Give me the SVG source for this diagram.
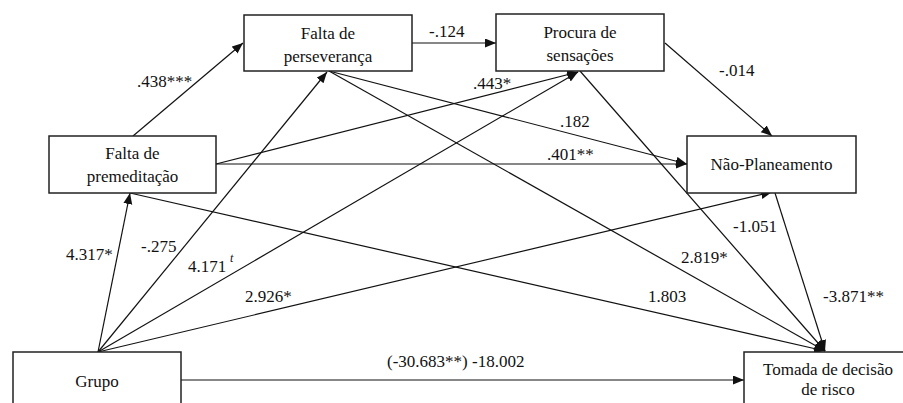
<svg xmlns="http://www.w3.org/2000/svg" width="903" height="403" viewBox="0 0 903 403">
<defs>
<marker id="ah" markerUnits="userSpaceOnUse" markerWidth="12" markerHeight="10" refX="11" refY="4.5" orient="auto">
<path d="M0,0 L11,4.5 L0,9 Z" fill="#111"/>
</marker>
</defs>
<style>
.box{fill:#fff;stroke:#222;stroke-width:1.5}
.t{font-family:'Liberation Serif',Tinos,'Times New Roman','DejaVu Serif',serif;font-size:17px;fill:#111}
.c{text-anchor:middle}
.ln{stroke:#111;stroke-width:1.2;fill:none;marker-end:url(#ah)}
</style>
<rect width="903" height="403" fill="#fff"/>
<g id="connectors">
<line class="ln" x1="133" y1="136" x2="243" y2="43"/>
<line class="ln" x1="412" y1="43" x2="496" y2="43"/>
<line class="ln" x1="665" y1="43" x2="772" y2="136"/>
<line class="ln" x1="216" y1="164" x2="578" y2="72"/>
<line class="ln" x1="216" y1="164" x2="687" y2="164"/>
<line class="ln" x1="329" y1="71" x2="687" y2="164"/>
<line class="ln" x1="329" y1="71" x2="825" y2="351"/>
<line class="ln" x1="580" y1="71" x2="825" y2="351"/>
<line class="ln" x1="775" y1="193" x2="825" y2="351"/>
<line class="ln" x1="130" y1="193" x2="825" y2="351"/>
<line class="ln" x1="98" y1="352" x2="130" y2="193"/>
<line class="ln" x1="98" y1="352" x2="327" y2="72"/>
<line class="ln" x1="98" y1="352" x2="578" y2="72"/>
<line class="ln" x1="98" y1="352" x2="772" y2="192"/>
<line class="ln" x1="181" y1="380" x2="744" y2="380"/>
</g>
<g id="labels" font-family="Liberation Serif, serif">
<text class="t" x="137" y="87">.438***</text>
<text class="t" x="429" y="37">-.124</text>
<text class="t" x="719" y="76">-.014</text>
<text class="t" x="473" y="89">.443*</text>
<text class="t" x="560" y="127">.182</text>
<text class="t" x="547" y="160">.401**</text>
<text class="t" x="66" y="260">4.317*</text>
<text class="t" x="141" y="252">-.275</text>
<text class="t" x="188" y="272">4.171</text>
<text class="t" x="230" y="262" style="font-size:12px;font-style:italic">t</text>
<text class="t" x="245" y="302">2.926*</text>
<text class="t" x="387" y="367">(-30.683**) -18.002</text>
<text class="t" x="648" y="302">1.803</text>
<text class="t" x="681" y="263">2.819*</text>
<text class="t" x="733" y="232">-1.051</text>
<text class="t" x="823" y="302">-3.871**</text>
</g>
<g id="perseveranca">
<rect class="box" x="244" y="15" width="168" height="56"/>
<text class="t c" x="328" y="39">Falta de</text>
<text class="t c" x="328" y="62">perseverança</text>
</g>
<g id="procura">
<rect class="box" x="496" y="14" width="168" height="57"/>
<text class="t c" x="580" y="38">Procura de</text>
<text class="t c" x="580" y="61">sensações</text>
</g>
<g id="premeditacao">
<rect class="box" x="49" y="136" width="167" height="57"/>
<text class="t c" x="132.5" y="159">Falta de</text>
<text class="t c" x="132.5" y="182">premeditação</text>
</g>
<g id="planeamento">
<rect class="box" x="687" y="136" width="169" height="57"/>
<text class="t c" x="771.5" y="170">Não-Planeamento</text>
</g>
<g id="grupo">
<rect class="box" x="13" y="352" width="168" height="60"/>
<text class="t c" x="97" y="387">Grupo</text>
</g>
<g id="tomada">
<rect class="box" x="744" y="352" width="170" height="60"/>
<text class="t c" x="828" y="375">Tomada de decisão</text>
<text class="t c" x="828" y="395">de risco</text>
</g>
</svg>
